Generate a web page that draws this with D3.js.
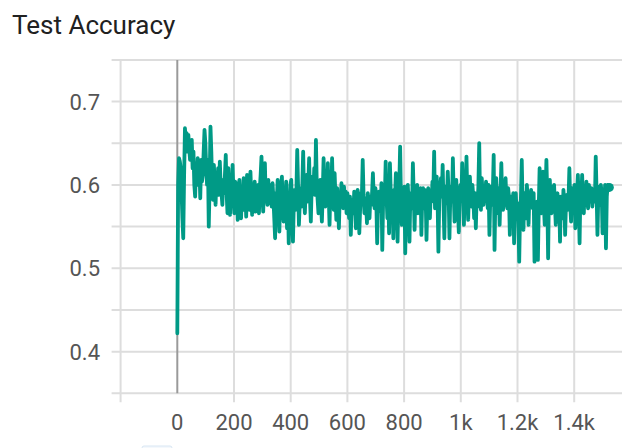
<!DOCTYPE html>
<html>
<head>
<meta charset="utf-8">
<script src="https://cdn.jsdelivr.net/npm/d3@7"></script>
<style>
  html, body { margin: 0; padding: 0; background: #ffffff; }
  svg { display: block; font-family: Roboto, "Noto Sans", sans-serif; }
</style>
</head>
<body>
<svg id="chart" width="622" height="448"></svg>
<script>
// ---- data ----
const chartTitle = "Test Accuracy";
const stepInterval = 3; // one evaluation every 3 steps, starting at step 0

const accuracy = [
  0.422, 0.600, 0.632, 0.628, 0.620, 0.592, 0.560, 0.536, 0.610, 0.668,
  0.650, 0.662, 0.640, 0.660, 0.644, 0.630, 0.648, 0.654, 0.620, 0.640,
  0.600, 0.586, 0.626, 0.610, 0.632, 0.600, 0.620, 0.584, 0.630, 0.604,
  0.612, 0.640, 0.666, 0.650, 0.620, 0.600, 0.630, 0.550, 0.600, 0.670,
  0.640, 0.600, 0.582, 0.624, 0.604, 0.576, 0.610, 0.594, 0.620, 0.588,
  0.628, 0.600, 0.590, 0.576, 0.606, 0.590, 0.612, 0.636, 0.590, 0.566,
  0.620, 0.596, 0.564, 0.600, 0.584, 0.624, 0.590, 0.566, 0.604, 0.580,
  0.602, 0.558, 0.590, 0.606, 0.574, 0.560, 0.596, 0.584, 0.608, 0.570,
  0.596, 0.562, 0.612, 0.580, 0.598, 0.570, 0.616, 0.586, 0.564, 0.600,
  0.584, 0.604, 0.568, 0.592, 0.578, 0.600, 0.566, 0.596, 0.612, 0.634,
  0.590, 0.568, 0.604, 0.626, 0.580, 0.598, 0.576, 0.606, 0.588, 0.578,
  0.600, 0.574, 0.602, 0.584, 0.560, 0.536, 0.590, 0.580, 0.606, 0.570,
  0.544, 0.586, 0.598, 0.610, 0.572, 0.556, 0.594, 0.582, 0.604, 0.548,
  0.590, 0.530, 0.576, 0.600, 0.606, 0.560, 0.532, 0.578, 0.594, 0.570,
  0.590, 0.642, 0.600, 0.552, 0.578, 0.596, 0.574, 0.600, 0.640, 0.586,
  0.566, 0.596, 0.612, 0.580, 0.600, 0.632, 0.584, 0.556, 0.598, 0.610,
  0.590, 0.620, 0.588, 0.654, 0.600, 0.582, 0.566, 0.598, 0.606, 0.576,
  0.556, 0.590, 0.632, 0.594, 0.574, 0.600, 0.580, 0.626, 0.588, 0.552,
  0.596, 0.580, 0.632, 0.590, 0.570, 0.614, 0.584, 0.558, 0.596, 0.576,
  0.548, 0.586, 0.578, 0.602, 0.590, 0.572, 0.598, 0.584, 0.592, 0.566,
  0.590, 0.578, 0.560, 0.586, 0.540, 0.572, 0.582, 0.566, 0.592, 0.580,
  0.548, 0.578, 0.594, 0.586, 0.542, 0.572, 0.590, 0.586, 0.630, 0.588,
  0.566, 0.584, 0.578, 0.554, 0.590, 0.580, 0.560, 0.586, 0.576, 0.590,
  0.614, 0.584, 0.572, 0.596, 0.580, 0.530, 0.576, 0.592, 0.584, 0.568,
  0.602, 0.522, 0.580, 0.596, 0.584, 0.628, 0.586, 0.560, 0.590, 0.542,
  0.626, 0.590, 0.568, 0.580, 0.536, 0.594, 0.584, 0.614, 0.576, 0.532,
  0.588, 0.600, 0.646, 0.582, 0.552, 0.596, 0.584, 0.598, 0.518, 0.576,
  0.592, 0.600, 0.578, 0.532, 0.586, 0.590, 0.572, 0.626, 0.588, 0.546,
  0.594, 0.580, 0.600, 0.566, 0.590, 0.582, 0.596, 0.540, 0.584, 0.596,
  0.572, 0.594, 0.586, 0.534, 0.580, 0.596, 0.588, 0.560, 0.592, 0.580,
  0.604, 0.590, 0.640, 0.572, 0.596, 0.610, 0.584, 0.520, 0.582, 0.596,
  0.608, 0.586, 0.624, 0.578, 0.536, 0.598, 0.584, 0.578, 0.616, 0.590,
  0.536, 0.588, 0.598, 0.580, 0.632, 0.590, 0.556, 0.596, 0.606, 0.584,
  0.572, 0.543, 0.588, 0.600, 0.584, 0.626, 0.590, 0.552, 0.596, 0.580,
  0.634, 0.588, 0.558, 0.596, 0.610, 0.582, 0.574, 0.600, 0.586, 0.560,
  0.590, 0.548, 0.586, 0.574, 0.598, 0.650, 0.580, 0.570, 0.608, 0.588,
  0.576, 0.596, 0.582, 0.604, 0.590, 0.572, 0.600, 0.540, 0.584, 0.598,
  0.576, 0.592, 0.636, 0.522, 0.588, 0.608, 0.576, 0.566, 0.596, 0.552,
  0.590, 0.626, 0.580, 0.570, 0.596, 0.590, 0.608, 0.578, 0.572, 0.596,
  0.586, 0.540, 0.584, 0.586, 0.562, 0.590, 0.530, 0.578, 0.590, 0.564,
  0.578, 0.560, 0.508, 0.566, 0.584, 0.630, 0.578, 0.546, 0.590, 0.582,
  0.560, 0.600, 0.584, 0.552, 0.588, 0.576, 0.594, 0.580, 0.572, 0.590,
  0.508, 0.568, 0.560, 0.580, 0.510, 0.574, 0.620, 0.580, 0.566, 0.590,
  0.616, 0.576, 0.552, 0.590, 0.630, 0.586, 0.512, 0.596, 0.606, 0.578,
  0.566, 0.598, 0.584, 0.600, 0.576, 0.552, 0.584, 0.590, 0.570, 0.586,
  0.532, 0.586, 0.574, 0.560, 0.594, 0.580, 0.540, 0.578, 0.588, 0.570,
  0.584, 0.620, 0.576, 0.556, 0.596, 0.580, 0.570, 0.600, 0.548, 0.586,
  0.590, 0.612, 0.576, 0.530, 0.594, 0.584, 0.612, 0.580, 0.566, 0.598,
  0.586, 0.604, 0.580, 0.572, 0.600, 0.586, 0.580, 0.596, 0.574, 0.590,
  0.588, 0.580, 0.634, 0.590, 0.540, 0.586, 0.598, 0.576, 0.600, 0.590,
  0.542, 0.590, 0.578, 0.600, 0.524, 0.586, 0.600, 0.594, 0.597
];

const xTickValues = [0, 200, 400, 600, 800, 1000, 1200, 1400];
const xTickLabels = ["0", "200", "400", "600", "800", "1k", "1.2k", "1.4k"];
const xGridValues = [-200, 0, 200, 400, 600, 800, 1000, 1200, 1400];

const yTickValues = [0.4, 0.5, 0.6, 0.7];
const yTickLabels = ["0.4", "0.5", "0.6", "0.7"];
const yGridValues = [0.35, 0.4, 0.45, 0.5, 0.55, 0.6, 0.65, 0.7, 0.75];

// ---- layout ----
const W = 622, H = 448;
const plotLeft = 120.6, plotRight = 630.9, plotTop = 59.9, plotBottom = 393.3;
const tickLen = 9;
const lineColor = "#009a86";

const points = accuracy.map((v, i) => ({ step: i * stepInterval, value: v }));

const x = d3.scaleLinear().domain([-200, 1600]).range([plotLeft, plotRight]);
const y = d3.scaleLinear().domain([0.35, 0.75]).range([plotBottom, plotTop]);

const svg = d3.select("#chart");

svg.append("text")
  .attr("x", 12)
  .attr("y", 34)
  .attr("font-size", 26)
  .attr("fill", "#212121")
  .text(chartTitle);

const grid = svg.append("g").attr("class", "grid");

// horizontal grid lines, each running a little past the left edge as a tick
grid.selectAll("line.h")
  .data(yGridValues)
  .join("line")
  .attr("class", "h")
  .attr("x1", plotLeft - tickLen)
  .attr("x2", W)
  .attr("y1", d => y(d))
  .attr("y2", d => y(d))
  .attr("stroke", "#dddddd")
  .attr("stroke-width", 2);

// vertical grid lines, each running a little below the bottom edge as a tick
grid.selectAll("line.v")
  .data(xGridValues.filter(d => d !== 0))
  .join("line")
  .attr("class", "v")
  .attr("x1", d => x(d))
  .attr("x2", d => x(d))
  .attr("y1", y(0.75))
  .attr("y2", plotBottom + tickLen)
  .attr("stroke", "#dddddd")
  .attr("stroke-width", 2);

// zero-step reference line
grid.append("line")
  .attr("x1", x(0))
  .attr("x2", x(0))
  .attr("y1", y(0.75))
  .attr("y2", plotBottom)
  .attr("stroke", "#9a9a9a")
  .attr("stroke-width", 2);

// y-axis labels
svg.append("g")
  .selectAll("text")
  .data(yTickValues)
  .join("text")
  .attr("x", 100)
  .attr("y", d => y(d) + 8)
  .attr("text-anchor", "end")
  .attr("font-size", 22)
  .attr("fill", "#555555")
  .text((d, i) => yTickLabels[i]);

// x-axis labels
svg.append("g")
  .selectAll("text")
  .data(xTickValues)
  .join("text")
  .attr("x", d => x(d))
  .attr("y", 430)
  .attr("text-anchor", "middle")
  .attr("font-size", 22)
  .attr("fill", "#555555")
  .text((d, i) => xTickLabels[i]);

// accuracy series
const line = d3.line()
  .x(d => x(d.step))
  .y(d => y(d.value));

svg.append("path")
  .datum(points)
  .attr("d", line)
  .attr("fill", "none")
  .attr("stroke", lineColor)
  .attr("stroke-width", 3.8)
  .attr("stroke-linejoin", "round")
  .attr("stroke-linecap", "round");

// marker on the latest value
const last = points[points.length - 1];
svg.append("circle")
  .attr("cx", x(last.step))
  .attr("cy", y(last.value))
  .attr("r", 4.5)
  .attr("fill", lineColor);

// edge of the control strip under the chart
svg.append("rect")
  .attr("x", 142)
  .attr("y", 446)
  .attr("width", 30)
  .attr("height", 8)
  .attr("rx", 2)
  .attr("fill", "#f4f8fc")
  .attr("stroke", "#d8e6f3")
  .attr("stroke-width", 1);
</script>
</body>
</html>
